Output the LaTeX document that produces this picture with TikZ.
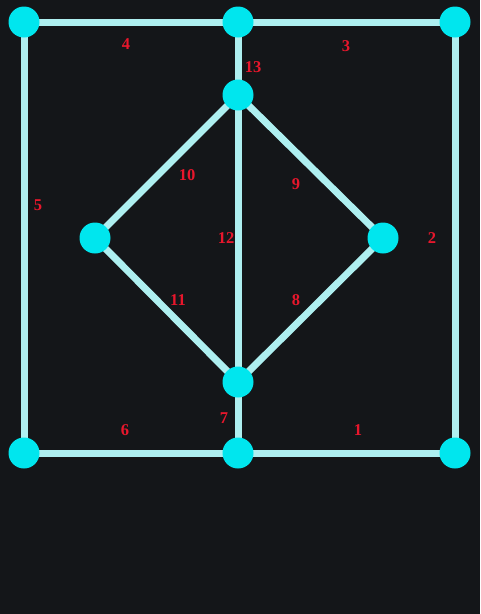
\documentclass[tikz,border=0pt]{standalone}
\usepackage{fontspec}
\setmainfont{Liberation Serif}
\begin{document}
\begin{tikzpicture}[x=1pt,y=-1pt,
  dot/.style={circle,fill=nodecyan,minimum size=31pt,inner sep=0pt},
  edge/.style={draw=linecyan,line width=7pt},
  lbl/.style={text=lblred,font=\fontsize{16.5}{17}\selectfont\bfseries,inner sep=0pt}]
\definecolor{bgc}{HTML}{141619}
\definecolor{nodecyan}{HTML}{00E6EE}
\definecolor{linecyan}{HTML}{AEEFF0}
\definecolor{lblred}{HTML}{E8162C}
\fill[bgc] (0,0) rectangle (480,614);
\useasboundingbox (0,0) rectangle (480,614);
\coordinate (tl) at (24,22);
\coordinate (tm) at (238,22);
\coordinate (tr) at (455,22);
\coordinate (ti) at (238,95);
\coordinate (lf) at (95,238);
\coordinate (rt) at (383,238);
\coordinate (bi) at (238,382);
\coordinate (bl) at (24,453);
\coordinate (bm) at (238,453);
\coordinate (br) at (455,453);
\draw[edge] (tl) -- (tm) -- (tr) -- (br) -- (bm) -- (bl) -- cycle;
\draw[edge] (tm) -- (ti) -- (bi) -- (bm);
\draw[edge] (ti) -- (lf) -- (bi) -- (rt) -- cycle;
\foreach \n in {tl,tm,tr,ti,lf,rt,bi,bl,bm,br} \node[dot] (n\n) at (\n) {};
\node[lbl] (l4) at (126,44) {4};
\node[lbl] (l3) at (346,46) {3};
\node[lbl] (l13) at (253,67) {13};
\node[lbl] (l5) at (38,205) {5};
\node[lbl] (l10) at (187,175) {10};
\node[lbl] (l9) at (296,184) {9};
\node[lbl] (l12) at (226,238) {12};
\node[lbl] (l2) at (432,238) {2};
\node[lbl] (l11) at (178,300) {11};
\node[lbl] (l8) at (296,300) {8};
\node[lbl] (l7) at (224,418) {7};
\node[lbl] (l6) at (125,430) {6};
\node[lbl] (l1) at (358,430) {1};
\end{tikzpicture}
\end{document}
